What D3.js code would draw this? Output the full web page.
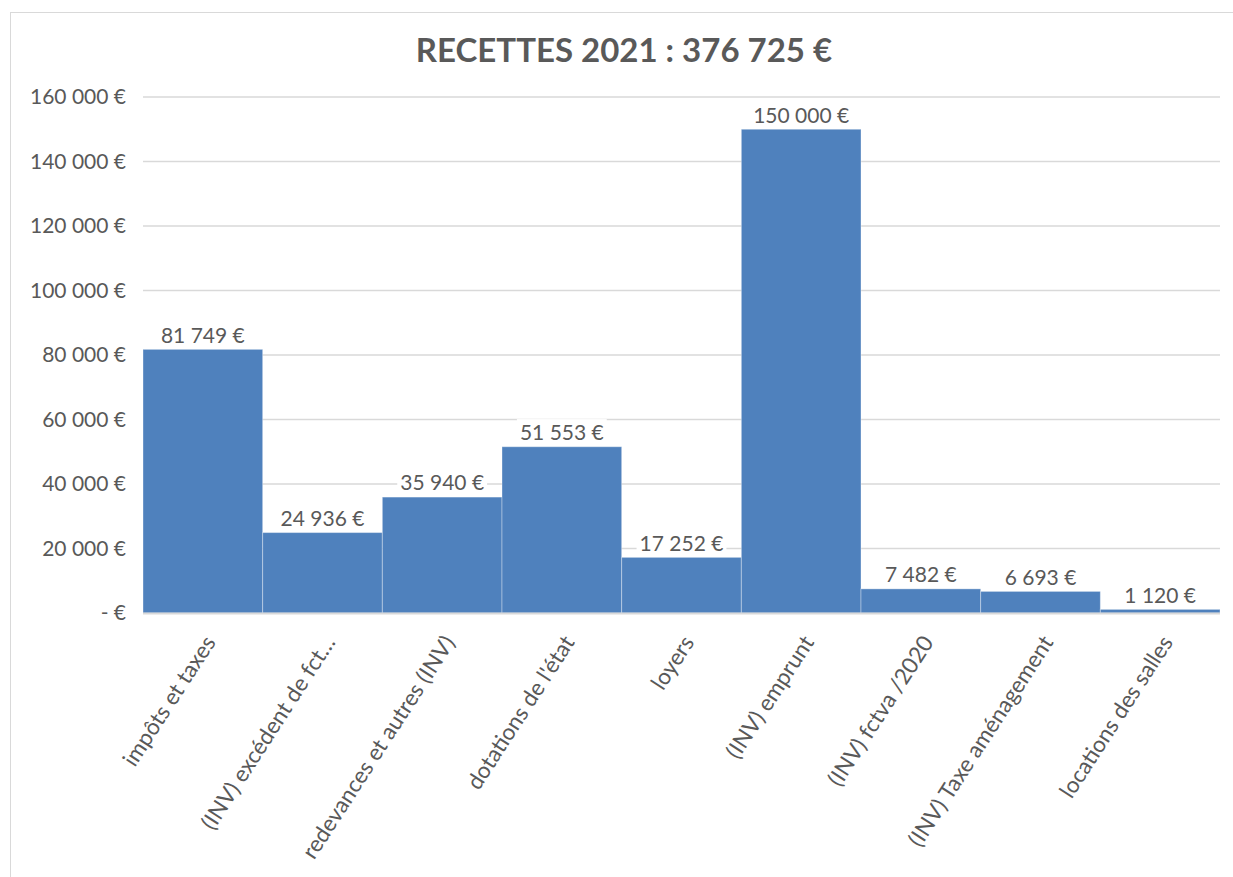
<!DOCTYPE html>
<html>
<head>
<meta charset="utf-8">
<script src="https://cdn.jsdelivr.net/npm/d3@7"></script>
<style>
  body { margin: 0; background: #fff; }
  svg text { font-family: Lato, "Open Sans", sans-serif; fill: #595959; }
</style>
</head>
<body>
<div id="chart"></div>
<script>
// --- Data ---
const categories = [
  "impôts et taxes",
  "(INV) excédent de fct…",
  "redevances et autres (INV)",
  "dotations de l'état",
  "loyers",
  "(INV) emprunt",
  "(INV) fctva /2020",
  "(INV) Taxe aménagement",
  "locations des salles"
];
const values = [81749, 24936, 35940, 51553, 17252, 150000, 7482, 6693, 1120];
const yTicks = [0, 20000, 40000, 60000, 80000, 100000, 120000, 140000, 160000];
const title = "RECETTES 2021 : 376 725 €";

const width = 1233;
const height = 877;
const margin = { top: 97, right: 13, bottom: 264, left: 143 };

// French style thousands separator, "-" for zero
const fmt = (v) => (v === 0 ? "-  €" : d3.format(",")(v).replace(/,/g, " ") + " €");

const svg = d3
  .select("#chart")
  .append("svg")
  .attr("width", width)
  .attr("height", height);

// chart frame
svg
  .append("rect")
  .attr("x", 10.5)
  .attr("y", 12.5)
  .attr("width", width + 20)
  .attr("height", height + 20)
  .attr("fill", "none")
  .attr("stroke", "#d9d9d9");

svg
  .append("text")
  .attr("x", 624)
  .attr("y", 62)
  .attr("text-anchor", "middle")
  .style("font-size", "33px")
  .style("font-weight", "bold")
  .text(title);

const x = d3
  .scaleBand()
  .domain(categories)
  .range([margin.left, width - margin.right])
  .padding(0);

const y = d3
  .scaleLinear()
  .domain([0, 160000])
  .range([height - margin.bottom, margin.top]);

// --- Gridlines ---
svg
  .append("g")
  .selectAll("line")
  .data(yTicks.filter((d) => d > 0))
  .join("line")
  .attr("x1", margin.left)
  .attr("x2", width - margin.right)
  .attr("y1", (d) => y(d))
  .attr("y2", (d) => y(d))
  .attr("stroke", "#d9d9d9")
  .attr("stroke-width", 1.5);

// --- Y axis labels ---
svg
  .append("g")
  .selectAll("text")
  .data(yTicks)
  .join("text")
  .attr("x", margin.left - 17)
  .attr("y", (d) => y(d))
  .attr("dy", "0.35em")
  .attr("text-anchor", "end")
  .style("font-size", "21px")
  .text(fmt);

// --- Bars ---
svg
  .append("g")
  .selectAll("rect")
  .data(values)
  .join("rect")
  .attr("x", (d, i) => x(categories[i]))
  .attr("y", (d) => y(d))
  .attr("width", x.bandwidth())
  .attr("height", (d) => y(0) - y(d))
  .attr("fill", "#4f81bd")
  .attr("stroke", "#ffffff")
  .attr("stroke-opacity", 0.35)
  .attr("stroke-width", 1);

// baseline
svg
  .append("line")
  .attr("x1", margin.left)
  .attr("x2", width - margin.right)
  .attr("y1", y(0) + 0.5)
  .attr("y2", y(0) + 0.5)
  .attr("stroke", "#d9d9d9")
  .attr("stroke-width", 2);

// --- Data labels with white boxes ---
const labelGroup = svg
  .append("g")
  .selectAll("g")
  .data(values)
  .join("g")
  .attr(
    "transform",
    (d, i) => `translate(${x(categories[i]) + x.bandwidth() / 2}, ${y(d) - 14})`
  );

labelGroup
  .append("text")
  .attr("text-anchor", "middle")
  .attr("dy", "0.35em")
  .style("font-size", "21px")
  .text(fmt);

labelGroup.insert("rect", "text").each(function () {
  const bbox = d3.select(this.parentNode).select("text").node().getBBox();
  d3.select(this)
    .attr("x", bbox.x - 3)
    .attr("y", bbox.y)
    .attr("width", bbox.width + 6)
    .attr("height", bbox.height)
    .attr("fill", "#fff");
});

// --- Category labels ---
svg
  .append("g")
  .selectAll("text")
  .data(categories)
  .join("text")
  .attr(
    "transform",
    (d) => `translate(${x(d) + x.bandwidth() / 2 + 7}, ${y(0) + 25}) rotate(-57)`
  )
  .attr("text-anchor", "end")
  .attr("dy", "0.35em")
  .style("font-size", "22.5px")
  .text((d) => d);
</script>
</body>
</html>
